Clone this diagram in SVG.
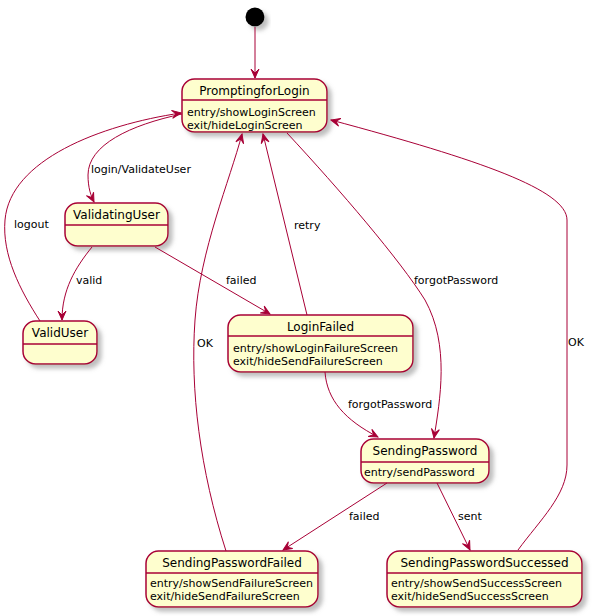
<svg xmlns="http://www.w3.org/2000/svg" width="592" height="616" viewBox="0 0 592 616">
<defs>
<filter id="sh" x="-20%" y="-20%" width="150%" height="160%">
<feGaussianBlur in="SourceAlpha" stdDeviation="2"/>
<feOffset dx="4" dy="4" result="b"/>
<feColorMatrix in="b" type="matrix" values="0 0 0 0 0.3  0 0 0 0 0.3  0 0 0 0 0.3  0 0 0 0.6 0" result="c"/>
<feMerge><feMergeNode in="c"/><feMergeNode in="SourceGraphic"/></feMerge>
</filter>
<marker id="a" viewBox="-10 -5 11 10" refX="0" refY="0" markerWidth="11" markerHeight="10" orient="auto" markerUnits="userSpaceOnUse">
<path d="M0,0 L-9,-4 L-5,0 L-9,4 Z" fill="#A80036" stroke="#A80036" stroke-width="1"/>
</marker>
</defs>
<style>
.box{fill:#FEFECE;stroke:#A80036;stroke-width:1.5}
.div{stroke:#A80036;stroke-width:1.5}
.t{font-family:"DejaVu Sans",sans-serif;font-size:12px;fill:#000;text-anchor:middle}
.at{font-family:"DejaVu Sans",sans-serif;font-size:11px;fill:#000}
.lb{font-family:"DejaVu Sans",sans-serif;font-size:11px;fill:#000}
.e{fill:none;stroke:#A80036;stroke-width:1;marker-end:url(#a)}
</style>
<rect width="592" height="616" fill="#FFFFFF"/>
<g id="initial"><circle cx="255" cy="17" r="9.5" fill="#000" filter="url(#sh)"/></g>
<g id="PromptingforLogin">
<rect class="box" x="182" y="79" width="145" height="53" rx="12.5" filter="url(#sh)"/>
<line class="div" x1="182" y1="100" x2="327" y2="100"/>
<text class="t" x="254.5" y="95">PromptingforLogin</text>
<text class="at" x="187" y="116">entry/showLoginScreen</text>
<text class="at" x="187" y="128.5">exit/hideLoginScreen</text>
</g>
<g id="ValidatingUser">
<rect class="box" x="65" y="203" width="103" height="43" rx="12.5" filter="url(#sh)"/>
<line class="div" x1="65" y1="225" x2="168" y2="225"/>
<text class="t" x="116.5" y="219">ValidatingUser</text>
</g>
<g id="ValidUser">
<rect class="box" x="23" y="321" width="74" height="43" rx="12.5" filter="url(#sh)"/>
<line class="div" x1="23" y1="344" x2="97" y2="344"/>
<text class="t" x="60" y="337">ValidUser</text>
</g>
<g id="LoginFailed">
<rect class="box" x="228" y="315" width="185" height="57" rx="12.5" filter="url(#sh)"/>
<line class="div" x1="228" y1="336" x2="413" y2="336"/>
<text class="t" x="320.5" y="331">LoginFailed</text>
<text class="at" x="233" y="352">entry/showLoginFailureScreen</text>
<text class="at" x="233" y="364.5">exit/hideSendFailureScreen</text>
</g>
<g id="SendingPassword">
<rect class="box" x="361" y="439" width="128" height="44" rx="12.5" filter="url(#sh)"/>
<line class="div" x1="361" y1="462" x2="489" y2="462"/>
<text class="t" x="425" y="455">SendingPassword</text>
<text class="at" x="364" y="476">entry/sendPassword</text>
</g>
<g id="SendingPasswordFailed">
<rect class="box" x="146" y="551" width="172" height="56" rx="12.5" filter="url(#sh)"/>
<line class="div" x1="146" y1="573" x2="318" y2="573"/>
<text class="t" x="232" y="567">SendingPasswordFailed</text>
<text class="at" x="150" y="587">entry/showSendFailureScreen</text>
<text class="at" x="150" y="599.5">exit/hideSendFailureScreen</text>
</g>
<g id="SendingPasswordSuccessed">
<rect class="box" x="387" y="551" width="195" height="56" rx="12.5" filter="url(#sh)"/>
<line class="div" x1="387" y1="573" x2="582" y2="573"/>
<text class="t" x="484.5" y="567">SendingPasswordSuccessed</text>
<text class="at" x="391" y="587">entry/showSendSuccessScreen</text>
<text class="at" x="391" y="599.5">exit/hideSendSuccessScreen</text>
</g>
<g id="connectors">
<path class="e" d="M255,27 L255,78"/>
<path class="e" d="M182,114 C130,125 88,145 88,175 C88,188 91,196 94,202"/>
<path class="e" d="M40,321 C20,290 2,255 5,220 C10,160 100,125 181,113"/>
<path class="e" d="M92,247 C75,268 62,290 62,320"/>
<path class="e" d="M155,247 L270,314"/>
<path class="e" d="M307,315 L263,134"/>
<path class="e" d="M226,551 C200,470 190,390 195,320 C200,250 230,180 242,134"/>
<path class="e" d="M287,133 C340,190 400,260 425,300 C450,345 440,400 434,438"/>
<path class="e" d="M325,372 C327,400 345,420 378,437"/>
<path class="e" d="M387,483 L283,550"/>
<path class="e" d="M437,483 L470,550"/>
<path class="e" d="M518,550 C540,520 567,495 567,465 L567,220 C567,190 480,160 331,120"/>
<text class="lb" x="91" y="172.5">login/ValidateUser</text>
<text class="lb" x="14" y="228">logout</text>
<text class="lb" x="76" y="284">valid</text>
<text class="lb" x="226" y="284">failed</text>
<text class="lb" x="294" y="229">retry</text>
<text class="lb" x="414" y="284">forgotPassword</text>
<text class="lb" x="197" y="347">OK</text>
<text class="lb" x="568" y="346">OK</text>
<text class="lb" x="348" y="408">forgotPassword</text>
<text class="lb" x="349" y="520">failed</text>
<text class="lb" x="458" y="520">sent</text>
</g>
</svg>
